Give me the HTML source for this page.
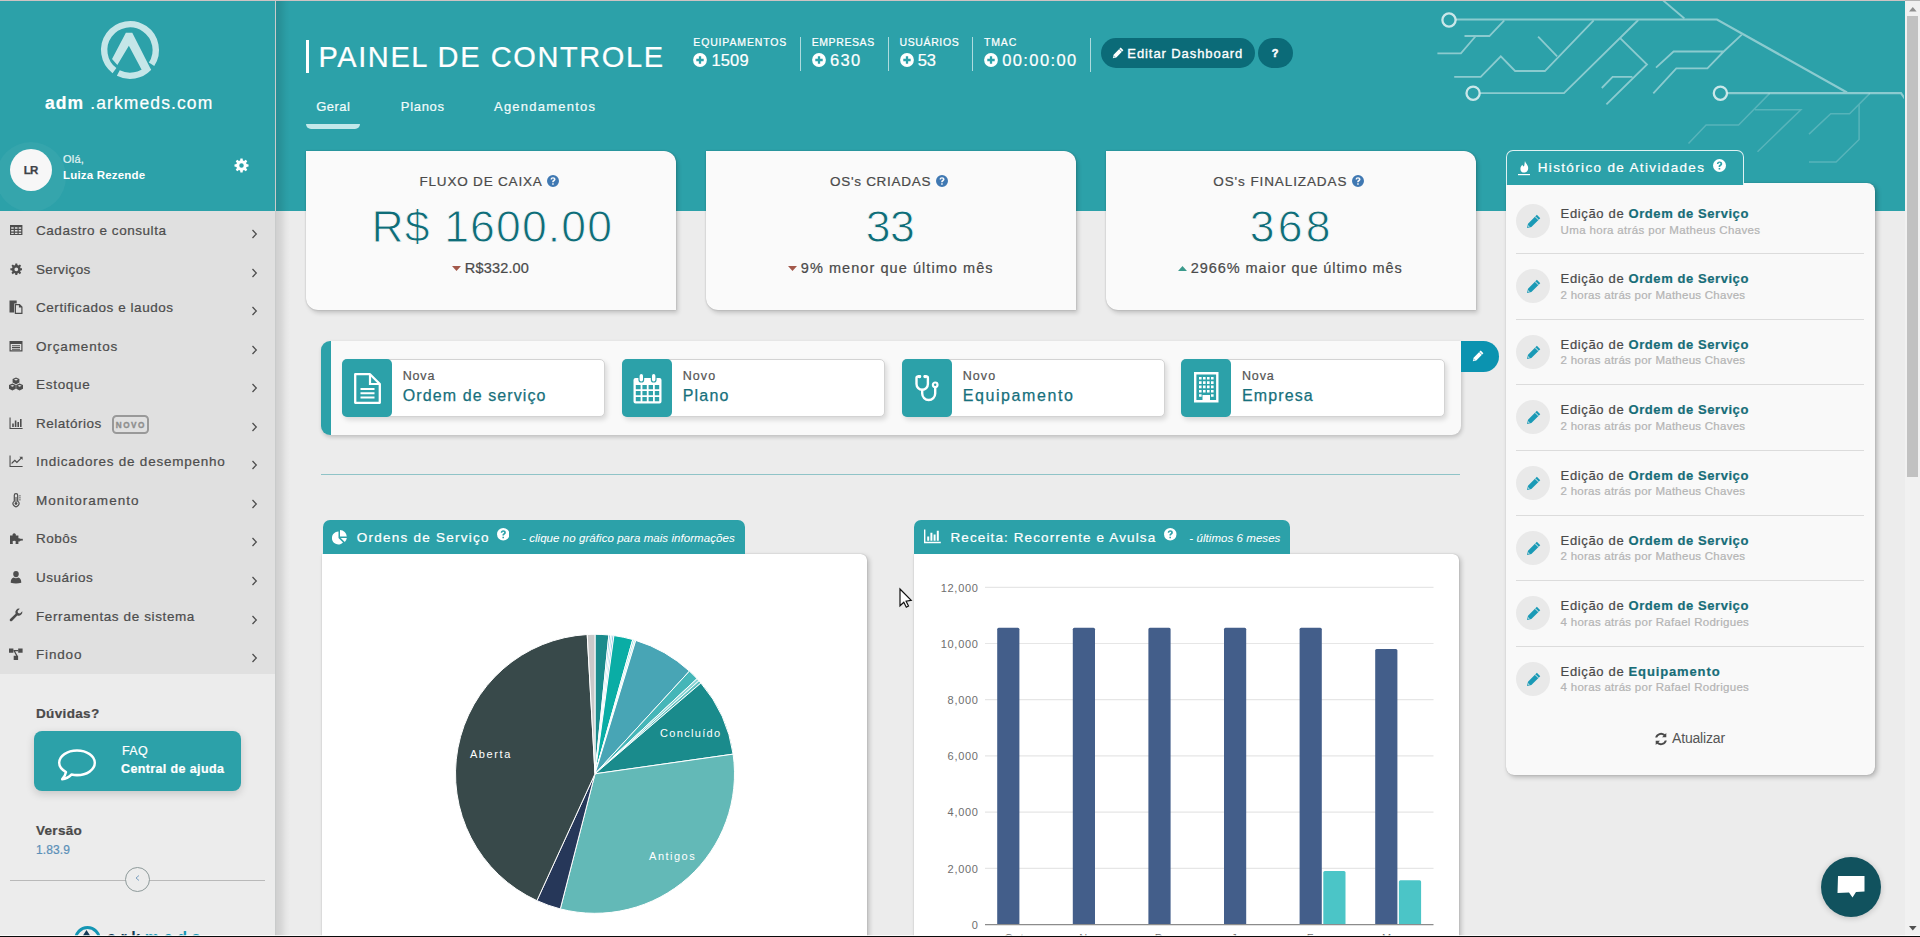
<!DOCTYPE html>
<html lang="pt-br">
<head>
<meta charset="utf-8">
<title>Painel de Controle</title>
<style>
*{box-sizing:border-box;margin:0;padding:0}
html,body{width:1920px;height:937px;overflow:hidden}
body{font-family:"Liberation Sans",sans-serif;background:#ececec;color:#4a4a4a;position:relative;-webkit-text-stroke-width:.22px}
.abs{position:absolute}
svg{display:block}
/* top + bottom window lines */
#topline{left:0;top:0;width:1905px;height:1px;background:#cfc3c3;z-index:50}
#botline{left:0;top:936px;width:1920px;height:1px;background:#0a0a0a;z-index:60}
#botline2{left:0;top:935px;width:1920px;height:1px;background:rgba(255,255,255,.75);z-index:60}
/* header */
#hdr{left:276px;top:0;width:1629px;height:211px;background:#2ca1a9}
/* sidebar */
#side{left:0;top:0;width:275px;height:937px;background:#ececec;z-index:20}
#sideborder{left:275px;top:0;width:1px;height:937px;background:#c9cbcb;z-index:21}
#sideshadow{left:276px;top:0;width:14px;height:937px;background:linear-gradient(to right,rgba(0,0,0,.12),rgba(0,0,0,.09) 35%,rgba(0,0,0,.03) 70%,rgba(0,0,0,0));z-index:19}
#sidetop{left:0;top:0;width:275px;height:211px;background:#2ca1a9}
#menu{left:0;top:211px;width:275px;height:463px;background:#e0e0e0}
/* scrollbar */
#sb{left:1905px;top:0;width:15px;height:937px;background:#f1f1f1;z-index:55}
#sbthumb{left:1907px;top:16px;width:11px;height:461px;background:#c1c1c1;z-index:56}

/* sidebar content */
.w{color:#fff}
#brand{left:45px;top:93px;width:200px;text-align:left;font-size:17.5px;color:#fff;letter-spacing:1.1px;line-height:20px;white-space:pre}
#brand b{font-weight:700}
#halo{left:-4px;top:141.500px;width:70px;height:70px;border-radius:50%;background:rgba(255,255,255,.045)}
#avatar{left:10px;top:149px;width:42px;height:42px;border-radius:50%;background:#f7f7f7;color:#3e4248;font-weight:700;font-size:11.5px;text-align:center;line-height:43px;letter-spacing:-.8px;text-indent:-.8px;-webkit-text-stroke-width:.25px}
#ola{left:63px;top:152px;font-size:11px;line-height:14px;color:#e2f3f4;letter-spacing:.2px}
#uname{left:63px;top:168px;font-size:11.5px;line-height:14px;color:#fff;font-weight:700;letter-spacing:0.18px;-webkit-text-stroke-width:0}
.mi{left:0;width:275px;height:38.55px;font-size:13.5px;color:#4d4d4d;letter-spacing:.5px}
.mi span.t{position:absolute;left:36px;top:1px;line-height:38.55px;white-space:nowrap}
.mi svg.ic{position:absolute;left:8px;top:11px;width:16px;height:16px;fill:#4d4d4d}
.mi svg.ch{position:absolute;left:251px;top:18px;width:7px;height:10px}
.novo{position:absolute;left:112px;top:11.200px;width:37px;height:19px;overflow:visible;border:2px solid #999;border-radius:4.500px;font-size:8.2px;font-weight:700;color:#8e8e8e;text-align:center;line-height:18.600px;letter-spacing:1.55px;text-indent:0.78px;-webkit-text-stroke-width:.35px}
#duv{left:36px;top:705px;font-size:13.5px;font-weight:700;color:#4a4a4a;line-height:18px;letter-spacing:.35px}
#faq{left:34px;top:731px;width:207px;height:60px;border-radius:8px;background:#2ca1a9;box-shadow:0 3px 8px rgba(0,0,0,.16)}
#faq .a{position:absolute;left:88px;top:12px;font-size:12.5px;line-height:16px;color:#fff;letter-spacing:.3px}
#faq .b{position:absolute;left:87px;top:30px;font-size:12.5px;line-height:16px;color:#fff;font-weight:700;letter-spacing:0.38px;white-space:nowrap}
#ver{left:36px;top:822px;font-size:13.5px;font-weight:700;color:#4a4a4a;line-height:18px;letter-spacing:.3px}
#vern{left:36px;top:842px;font-size:12px;color:#5b90b8;line-height:16px;letter-spacing:.1px}
#shr{left:10px;top:880px;width:255px;height:1px;background:#b9b9b9}
#scirc{left:125px;top:867px;width:25px;height:25px;border-radius:50%;border:1px solid #8e9a9a;background:#ececec}

/* header content */
#tbar{left:306px;top:40px;width:3px;height:32.5px;background:#fff}
#title{left:318.500px;top:40px;font-size:29px;line-height:34px;color:#fff;letter-spacing:1.59px;white-space:nowrap}
.st{color:#fff;white-space:nowrap}
.st .l{position:absolute;left:0;top:0;font-size:10.5px;line-height:12px}
.st .n{position:absolute;left:18.200px;top:14.800px;font-size:16.5px;line-height:18px}
.st svg{position:absolute;left:0;top:17px}
.dv{width:1px;height:34px;top:37px;background:rgba(255,255,255,.62)}
#bedit{left:1101px;top:38px;width:153.500px;height:30px;border-radius:15px;background:#0b6b78}
#bedit span{position:absolute;left:26.300px;top:7.600px;-webkit-text-stroke-width:.35px;font-size:13px;line-height:16px;color:#fff;letter-spacing:.92px;white-space:nowrap}
#bq{left:1258.400px;top:38px;width:34.300px;height:30px;border-radius:15px;background:#0b6b78;color:#fff;font-weight:700;font-size:11px;text-align:center;line-height:31px;-webkit-text-stroke-width:.5px;text-indent:-1px}
.tab{top:98.500px;font-size:13px;line-height:16px;color:#f2fbfb;white-space:nowrap}
#tabu{left:306px;top:124px;width:54px;height:5px;background:#c3e8ea;border-radius:0 0 5px 5px}

/* cards */
.card{top:151px;width:369.500px;height:159px;background:#fafafa;border-radius:0 12px 0 12px;box-shadow:2px 3px 4px rgba(0,0,0,.17),0 0 1.500px rgba(0,0,0,.3)}
.card .ct{position:absolute;top:23.300px;font-size:13.5px;line-height:16px;color:#4a4a4a;white-space:nowrap}
.card .cv{position:absolute;top:51px;font-size:44.5px;line-height:50px;color:#0f6d78;-webkit-text-stroke:.9px #fafafa;white-space:nowrap}
.card .cs{position:absolute;top:108px;font-size:14.5px;line-height:18px;color:#4a4a4a;white-space:nowrap}
.card svg{position:absolute}
/* quick actions */
#qa{left:321px;top:341px;width:1139.500px;height:94px;background:#f9f9f9;border-left:10px solid #2ca1a9;border-radius:9px 0 9px 9px;box-shadow:1px 2px 4px rgba(0,0,0,.2)}
.qb{top:358.500px;width:263.500px;height:58.800px;background:#fff;border:1px solid #d3d3d3;border-radius:5px;box-shadow:2px 3px 5px rgba(0,0,0,.13)}
.qb .sq{position:absolute;left:-1px;top:-1px;width:50.300px;height:58.800px;background:#2ca1a9;border-radius:5px}
.qb .a{position:absolute;left:60px;top:9.500px;font-size:12.5px;line-height:15px;color:#555;white-space:nowrap}
.qb .b{position:absolute;left:60px;top:26.800px;font-size:16px;line-height:19px;color:#17707c;white-space:nowrap;-webkit-text-stroke:.25px #17707c}
#qedit{left:1460.500px;top:341px;width:38.200px;height:31px;background:#0b93b0;border-radius:0 15.500px 15.500px 0}
#hr1{left:321px;top:474px;width:1139px;height:1px;background:#8fc3c7}
/* history */
#htab{left:1506px;top:150px;width:238px;height:35px;background:#2ca1a9;border:1px solid rgba(255,255,255,.85);border-bottom:none;border-radius:7px 7px 0 0}
#htab span{position:absolute;left:30.700px;top:9px;font-size:13.5px;line-height:16px;color:#fff;white-space:nowrap}
#hpan{left:1505.500px;top:183px;width:369px;height:591.800px;background:#f9f9f9;border-radius:0 8px 8px 8px;box-shadow:2px 2px 5px rgba(0,0,0,.25),0 0 1px rgba(0,0,0,.3)}
.hi{left:1516px;width:348px;height:65.400px}
.hi .c{position:absolute;left:0;top:0;width:34px;height:34px;border-radius:50%;background:#e9e9e9}
.hi .t{position:absolute;left:44.600px;top:2px;font-size:13px;line-height:16px;color:#4a4a4a;white-space:nowrap}
.hi .t b{color:#176d78;font-weight:700}
.hi .s{position:absolute;left:44.600px;top:19px;font-size:11.5px;line-height:14px;color:#b4b4b4;white-space:nowrap}
.hsep{left:1516px;width:348px;height:1px;background:#dcdcdc}
#hupd{left:1672px;top:729.500px;font-size:14px;line-height:17px;color:#555;white-space:nowrap;-webkit-text-stroke-width:0}
#chat{left:1821px;top:857px;width:60px;height:60px;border-radius:50%;background:#11525e;box-shadow:0 1px 6px rgba(0,0,0,.2)}

/* charts */
.chd{top:520px;height:34px;background:#2ca1a9;border-radius:7px 7px 0 0;color:#fff}
.chd .t{position:absolute;top:9.600px;font-size:13.5px;line-height:16px;white-space:nowrap}
.chd .i{position:absolute;top:10.800px;font-size:11.5px;line-height:14px;font-style:italic;white-space:nowrap;-webkit-text-stroke-width:.05px}
.cpan{top:553.500px;height:400px;background:#fff;border-radius:0 6px 0 0;box-shadow:2px 2px 5px rgba(0,0,0,.22),0 0 1px rgba(0,0,0,.35)}
</style>
</head>
<body>
<svg width="0" height="0" style="position:absolute"><defs>
<g id="logo" fill="none" stroke="#c5e6e8" stroke-width="6.4">
  <path d="M24.47 60.6 A25.8 25.8 0 1 1 61.56 54.16" />
  <path d="M58.9 57.6 A25.8 25.8 0 0 1 28.3 63" />
  <path d="M35.87 22.63 L42.27 22.63 L61.06 59.78 L55 63 L51.24 58.92 L38.86 35.87 L27.33 55.08 L22.03 49.1 Z" fill="#c5e6e8" stroke="none"/>
</g>
<path id="i-cog" fill-rule="evenodd" d="M13.40 6.52 L15.51 6.82 L15.51 9.18 L13.40 9.48 L12.86 10.77 L14.15 12.47 L12.47 14.15 L10.77 12.86 L9.48 13.40 L9.18 15.51 L6.82 15.51 L6.52 13.40 L5.23 12.86 L3.53 14.15 L1.85 12.47 L3.14 10.77 L2.60 9.48 L0.49 9.18 L0.49 6.82 L2.60 6.52 L3.14 5.23 L1.85 3.53 L3.53 1.85 L5.23 3.14 L6.52 2.60 L6.82 0.49 L9.18 0.49 L9.48 2.60 L10.77 3.14 L12.47 1.85 L14.15 3.53 L12.86 5.23Z M10.40 8.00 A2.4 2.4 0 1 0 5.60 8.00 A2.4 2.4 0 1 0 10.40 8.00Z"/>
<g id="i-th"><path fill-rule="evenodd" d="M2 3h12.4v10H2z M3.2 5.2v1.6h2.5V5.2z M6.9 5.2v1.6h2.6V5.2z M10.7 5.2v1.6h2.5V5.2z M3.2 8v1.6h2.5V8z M6.9 8v1.6h2.6V8z M10.7 8v1.6h2.5V8z M3.2 10.8v1.2h2.5v-1.2z M6.9 10.8v1.2h2.6v-1.2z M10.7 10.8v1.2h2.5v-1.2z"/></g>
<g id="i-copy"><path d="M1.5 1.5h7.2v3H6.2v9H1.5z"/><path fill-rule="evenodd" d="M6.8 5h5l2.7 2.7V15H6.8z M8 6.2v7.6h5.3V8.6h-2.4V6.2z"/></g>
<g id="i-list"><path fill-rule="evenodd" d="M1.5 3h13v10.5h-13z M2.7 6v6.3h10.6V6z"/><path d="M4 7.2h8v1H4z M4 9h8v1H4z M4 10.8h8v1H4z"/></g>
<g id="i-cubes"><path fill-rule="evenodd" d="M8 1.5 L11.4 3 V6.6 L8 8.2 L4.6 6.6 V3z M8 2.8 L6 3.7 L8 4.6 L10 3.7z"/><path fill-rule="evenodd" d="M4.4 7.6 L7.8 9.1 V12.8 L4.4 14.4 L1 12.8 V9.1z M4.4 8.9 L2.4 9.8 L4.4 10.7 L6.4 9.8z"/><path fill-rule="evenodd" d="M11.6 7.6 L15 9.1 V12.8 L11.6 14.4 L8.2 12.8 V9.1z M11.6 8.9 L9.6 9.8 L11.6 10.7 L13.6 9.8z"/></g>
<g id="i-bar"><path d="M1.5 2.5h1.1v10.4h12v1.1H1.5z M4.2 8.5h1.6v3.6H4.2z M6.8 5.5h1.6v6.6H6.8z M9.4 7h1.6v5.1H9.4z M12 4h1.6v8.100H12z"/></g>
<g id="i-line"><path d="M1.5 2.5h1.1v10.4h12v1.1H1.5z"/><path d="M3.6 11.200 L3.6 9.6 L6.800 6.400 L8.900 8.500 L12.5 4.900 L11.300 3.700 L14.600 3.700 L14.600 7 L13.4 5.800 L8.900 10.300 L6.800 8.200z"/></g>
<g id="i-therm"><path fill-rule="evenodd" d="M8 1 a2.300 2.300 0 0 1 2.300 2.300 V9 a3.500 3.500 0 1 1 -4.600 0 V3.300 A2.300 2.300 0 0 1 8 1z M8 2.200 a1.100 1.100 0 0 0 -1.100 1.100 V9.600 a2.300 2.300 0 1 0 2.200 0 V3.300 A1.100 1.100 0 0 0 8 2.200z"/><path d="M7.500 5h1v5.200a1.400 1.400 0 1 1 -1 0z M11 3.500h1.800v.8H11z M11 5.500h1.800v.8H11z M11 7.500h1.800v.8H11z"/></g>
<g id="i-puzzle"><path d="M2 5.500h2.600 a1.700 1.700 0 1 1 3.200 0 H10.400 V8.300 a1.700 1.700 0 1 1 0 3.200 V14 H7.600 V12.800 a1.500 1.500 0 1 0 -2.800 0 V14 H2z"/><path d="M12 8.800h2.800v1.800H12z"/></g>
<g id="i-user"><path d="M8 2 a2.800 3.100 0 1 1 0 6.200 a2.800 3.100 0 1 1 0 -6.200z M2.700 13.800 c0 -3.400 1.300 -5 3.100 -5.300 c1.300 .9 3.100 .9 4.400 0 c1.800 .3 3.100 1.900 3.100 5.300 q-5.300 1.400 -10.600 0z"/></g>
<g id="i-wrench"><path d="M14.300 3.200 a3.700 3.700 0 0 1 -5 4.200 L4 12.900 a1.300 1.300 0 0 1 -1.900 -1.900 L7.600 5.700 a3.700 3.700 0 0 1 4.200 -5 L9.600 3 L10 5 L12 5.400z"/></g>
<g id="i-proj"><path d="M1 2.500h4.400v4.200H1z M10.200 2.500h4.400v4.200h-4.400z M5.700 9.800h4.400v4.200H5.700z"/><path d="M5.400 4h4.800v1.300H5.400z M5.600 5 l1.100 -.6 l2.900 5.400 l-1.100 .6z"/></g>
<g id="i-comment" fill="none" stroke="#fff" stroke-width="2.300"><path d="M21 4 c9.500 0 17 4.800 17 10.800 s-7.500 10.800 -17 10.800 c-1.800 0 -3.600 -.2 -5.200 -.5 c-2.400 2.200 -5.600 3.700 -9 4 c2 -1.800 3.300 -3.800 3.700 -6.200 C6.500 20.900 4 18 4 14.800 C4 8.800 11.500 4 21 4z" stroke-linejoin="round"/></g>
<g id="botlogo"><circle cx="87.500" cy="939.600" r="12" fill="none" stroke="#1496b4" stroke-width="3"/><path d="M80.500 942 L86.500 932.800 L92.500 942" fill="none" stroke="#153a56" stroke-width="3"/><text x="107" y="943" font-family="Liberation Sans, sans-serif" font-size="16" font-weight="700" fill="#153a56" letter-spacing="4.61">ark<tspan fill="#1496b4">meds</tspan></text></g>
<g id="i-plus"><circle cx="7" cy="7" r="6.900" fill="#fff"/><path d="M3.300 7 H10.700 M7 3.300 V10.700" stroke="#2ca1a9" stroke-width="2.300" fill="none"/></g>
<path id="i-pencil" fill-rule="evenodd" d="M8.700 .6 L11.400 3.300 L4.300 10.400 L.8 11.200 L1.600 7.700 Z M7.600 1.900 L7.200 2.300 L9.700 4.800 L10.100 4.400 Z M2 8.700 L1.700 10.300 L3.300 10 L3.050 9.750 L2.500 9.900 L2.200 9.500 L2.300 9 Z"/>
<g id="i-q"><path fill-rule="evenodd" d="M6 0 a6 6 0 1 1 0 12 a6 6 0 1 1 0 -12z M5.200 8.300 v1.500 h1.500 v-1.500z M3.600 4.500 h1.500 c0 -.7 .4 -1 .9 -1 s.9 .3 .9 .8 c0 .4 -.3 .7 -.8 1 c-.7 .5 -.9 .9 -.9 1.700 v.300 h1.500 v-.200 c0 -.4 .200 -.6 .7 -.9 c.7 -.5 1.100 -1 1.100 -1.900 c0 -1.300 -1 -2.100 -2.500 -2.100 s-2.400 .9 -2.400 2.300z"/></g>
<g id="i-doc" fill="none" stroke="#fff"><path d="M1.200 1.200 H16 L25.800 11 V29.800 H1.200z" stroke-width="2.300" stroke-linejoin="round"/><path d="M16 1.300 V11 H25.700" stroke-width="2.200"/><path d="M6.500 16 H20.500 M6.500 20.300 H20.500 M6.500 24.600 H20.500" stroke-width="2"/></g>
<g id="i-cal"><path fill="#fff" fill-rule="evenodd" d="M2.500 5 H26.500 a2 2 0 0 1 2 2 V28.500 a2 2 0 0 1 -2 2 H2.500 a2 2 0 0 1 -2 -2 V7 a2 2 0 0 1 2 -2z M2.800 12 v4.200 h4.800 V12z M9.400 12 v4.200 h4.400 V12z M15.600 12 v4.200 h4.400 V12z M21.800 12 v4.200 h4.400 V12z M2.800 18 v4.200 h4.800 V18z M9.400 18 v4.200 h4.400 V18z M15.600 18 v4.200 h4.400 V18z M21.800 18 v4.200 h4.400 V18z M2.800 24 v4.200 h4.800 V24z M9.400 24 v4.200 h4.400 V24z M15.600 24 v4.200 h4.400 V24z M21.800 24 v4.200 h4.400 V24z"/><rect x="6" y=".5" width="4.600" height="8.500" rx="2.300" fill="#fff" stroke="#2ca1a9" stroke-width="1.200"/><rect x="18.400" y=".5" width="4.600" height="8.500" rx="2.300" fill="#fff" stroke="#2ca1a9" stroke-width="1.200"/></g>
<g id="i-ste" fill="none" stroke="#fff" stroke-width="2.400" stroke-linecap="round"><path d="M4.500 1.500 H2.800 a1.300 1.300 0 0 0 -1.300 1.300 V9 a5.700 5.700 0 0 0 11.400 0 V2.800 a1.300 1.300 0 0 0 -1.300 -1.300 H10"/><path d="M4.300 1.600 h.3 M10 1.600 h.3" stroke-width="3.400"/><path d="M7.200 15 v3.500 a6.500 6.500 0 0 0 13 0 V12.500"/><circle cx="20.200" cy="9.800" r="2.300" stroke-width="2.200"/></g>
<g id="i-bld"><path fill="#fff" fill-rule="evenodd" d="M0 0 H24.500 V30.500 H0z M2.400 2.400 V28.100 H8.500 V23 H16 V28.100 H22.100 V2.400z"/><path fill="#fff" d="M5 5h2.600v2.600H5z M9 5h2.600v2.600H9z M13 5h2.600v2.600H13z M17 5h2.600v2.600H17z M5 9.300h2.600v2.600H5z M9 9.300h2.600v2.600H9z M13 9.300h2.600v2.600H13z M17 9.300h2.600v2.600H17z M5 13.600h2.600v2.600H5z M9 13.600h2.600v2.600H9z M13 13.600h2.600v2.600H13z M17 13.600h2.600v2.600H17z M5 17.900h2.600v2.600H5z M9 17.900h2.600v2.600H9z M13 17.900h2.600v2.600H13z M17 17.900h2.600v2.600H17z M5 22.200h2.600v2.600H5z M17 22.200h2.600v2.600H17z"/></g>
<g id="i-fire" fill="#fff"><path d="M7 0 C7.600 2.600 10.200 4 10.200 7.200 C10.200 9.900 8.300 11.600 6.200 11.600 C4 11.600 2.400 10 2.400 7.900 C2.400 6 3.500 4.900 4.400 3.800 C4.700 4.800 5.300 5.400 5.900 5.500 C6.700 3.800 6.500 1.700 7 0z"/><rect x="0" y="13" width="12" height="1.200"/></g>
<g id="i-refresh" fill="#4a4a4a"><path d="M12.300 1 V5.300 H8 L9.600 3.700 A4 4 0 0 0 3.200 5.600 H1.200 A6 6 0 0 1 11 2.300z M1.700 13 V8.700 H6 L4.400 10.300 A4 4 0 0 0 10.800 8.400 H12.800 A6 6 0 0 1 3 11.700z"/></g>
<g id="i-pie" fill="#fff"><path d="M6.500 1.500 V8 L11 12.600 A6.500 6.500 0 1 1 6.500 1.500z"/><path d="M8 0 A6.800 6.800 0 0 1 14.800 6.500 H8z"/><path d="M8.700 8 H14.800 A6.800 6.800 0 0 1 12.800 12z"/></g>
<g id="i-barw" fill="#fff"><path d="M0 .5h1.400v12.300h15.400v1.400H0z M3.200 7.500h2v4.300h-2z M6.400 3.800h2v8h-2z M9.600 5.600h2v6.200h-2z M12.800 1.800h2v10h-2z"/></g>
</defs></svg>
<div id="hdr" class="abs"></div>

<svg class="abs" style="left:1400px;top:0" width="504" height="210" viewBox="1400 0 504 210" fill="none" stroke="#fff" stroke-width="1.500">
 <g opacity=".75"><circle cx="1449" cy="20" r="6.600" stroke-width="2.300"/><circle cx="1473.100" cy="93.200" r="6.600" stroke-width="2.300"/><circle cx="1720.400" cy="93.200" r="6.600" stroke-width="2.300"/></g>
 <g opacity=".45" stroke-width="1.800">
  <path d="M1456 19.500 H1717 L1847 92.500 M1727.500 93.200 H1901 L1906 100" stroke-width="2.200"/>
  <path d="M1662.700 0 L1684.400 18.500"/>
  <path d="M1480.500 93.200 H1564 L1638.300 20"/>
  <path d="M1593.700 20.300 L1544.900 71 H1515.100 L1500.800 56.300 L1480.700 76.900 H1454.200"/>
  <path d="M1538.100 36.600 L1557.100 56.300"/>
  <path d="M1504.300 20.300 L1489.400 36 H1464.500 M1475.800 36 L1460.900 53.400 H1437.400"/>
  <path d="M1619.900 37.900 L1647 64.500 L1606.400 104.300 M1632.400 76.900 H1612.600 L1601.800 88"/>
  <path d="M1741.800 34.700 L1723.700 51.500 H1673.600 L1656 67.700 M1723.700 51.500 L1707.400 68.300 H1676.300 L1653.300 93.400"/>
 </g>
 <g opacity=".2">
  <path d="M1769.700 93.400 L1738.600 125.100 H1706.100 L1688.500 143.600"/>
  <path d="M1754.800 109.700 H1800.900 L1757.500 151.700"/>
  <path d="M1869.900 93.400 L1849.600 113.800 H1830.700 L1809 134.100"/>
  <path d="M1859.100 104.300 V139.500 L1836.100 162 H1809"/>
 </g>
</svg>
<div id="tbar" class="abs"></div>
<div id="title" class="abs">PAINEL DE CONTROLE</div>
<div class="st abs" style="left:693.3px;top:36px"><span class="l" style="letter-spacing:0.85px">EQUIPAMENTOS</span><svg width="14" height="14" viewBox="0 0 14 14"><use href="#i-plus"/></svg><span class="n" style="letter-spacing:0.13px">1509</span></div>
<div class="dv abs" style="left:800px"></div>
<div class="st abs" style="left:811.7px;top:36px"><span class="l" style="letter-spacing:0.59px">EMPRESAS</span><svg width="14" height="14" viewBox="0 0 14 14"><use href="#i-plus"/></svg><span class="n" style="letter-spacing:1.38px">630</span></div>
<div class="dv abs" style="left:888px"></div>
<div class="st abs" style="left:899.5px;top:36px"><span class="l" style="letter-spacing:0.62px">USUÁRIOS</span><svg width="14" height="14" viewBox="0 0 14 14"><use href="#i-plus"/></svg><span class="n" style="letter-spacing:-0.06px">53</span></div>
<div class="dv abs" style="left:972px"></div>
<div class="st abs" style="left:984px;top:36px"><span class="l" style="letter-spacing:0.85px">TMAC</span><svg width="14" height="14" viewBox="0 0 14 14"><use href="#i-plus"/></svg><span class="n" style="letter-spacing:1.4px">00:00:00</span></div>
<div class="dv abs" style="left:1090px;top:38px"></div>
<div id="bedit" class="abs"><svg class="abs" style="left:11px;top:9px" width="12" height="12" viewBox="0 0 12 12"><use href="#i-pencil" fill="#fff"/></svg><span>Editar Dashboard</span></div>
<div id="bq" class="abs">?</div>
<div class="tab abs" style="left:316.200px;letter-spacing:.5px">Geral</div>
<div class="tab abs" style="left:400.800px;letter-spacing:.69px">Planos</div>
<div class="tab abs" style="left:494px;letter-spacing:1.230px">Agendamentos</div>
<div id="tabu" class="abs"></div>
<div class="card abs" style="left:306px">
 <span class="ct" style="left:113.5px;letter-spacing:0.81px">FLUXO DE CAIXA</span>
 <svg style="left:241.0px;top:24.200px" width="12" height="12" viewBox="0 0 12 12"><use href="#i-q" fill="#3f78b2"/></svg>
 <span class="cv" style="left:65.4px;letter-spacing:1.17px">R$ 1600.00</span>
 <svg style="left:145.8px;top:115px" width="9" height="5" viewBox="0 0 8.600 4.800"><path d="M0 0H8.600L4.300 4.800z" fill="#a3584a"/></svg>
 <span class="cs" style="left:158.8px;letter-spacing:0.17px">R$332.00</span>
</div>
<div class="card abs" style="left:706px">
 <span class="ct" style="left:124.0px;letter-spacing:0.71px">OS's CRIADAS</span>
 <svg style="left:229.6px;top:24.200px" width="12" height="12" viewBox="0 0 12 12"><use href="#i-q" fill="#3f78b2"/></svg>
 <span class="cv" style="left:159.8px;letter-spacing:-0.5px">33</span>
 <svg style="left:82.3px;top:115px" width="9" height="5" viewBox="0 0 8.600 4.800"><path d="M0 0H8.600L4.300 4.800z" fill="#a3584a"/></svg>
 <span class="cs" style="left:94.8px;letter-spacing:1.06px">9% menor que último mês</span>
</div>
<div class="card abs" style="left:1106px">
 <span class="ct" style="left:107.3px;letter-spacing:0.9px">OS's FINALIZADAS</span>
 <svg style="left:245.8px;top:24.200px" width="12" height="12" viewBox="0 0 12 12"><use href="#i-q" fill="#3f78b2"/></svg>
 <span class="cv" style="left:143.8px;letter-spacing:3.17px">368</span>
 <svg style="left:72.3px;top:115px" width="9" height="5" viewBox="0 0 8.600 4.800"><path d="M0 4.800H8.600L4.300 0z" fill="#3a9a8c"/></svg>
 <span class="cs" style="left:84.8px;letter-spacing:0.93px">2966% maior que último mês</span>
</div>
<div id="qa" class="abs"></div>
<div class="qb abs" style="left:341.7px"><div class="sq"></div><svg class="abs" style="left:11.500px;top:13.300px" width="27" height="31" viewBox="0 0 27 31"><use href="#i-doc"/></svg><span class="a" style="letter-spacing:0.84px">Nova</span><span class="b" style="letter-spacing:1.1px">Ordem de serviço</span></div>
<div class="qb abs" style="left:621.7px"><div class="sq"></div><svg class="abs" style="left:10px;top:13px" width="29" height="31" viewBox="0 0 29 31"><use href="#i-cal"/></svg><span class="a" style="letter-spacing:1.1px">Novo</span><span class="b" style="letter-spacing:1.22px">Plano</span></div>
<div class="qb abs" style="left:901.7px"><div class="sq"></div><svg class="abs" style="left:12.400px;top:15.800px" width="25" height="27" viewBox="0 0 25 27"><use href="#i-ste"/></svg><span class="a" style="letter-spacing:1.1px">Novo</span><span class="b" style="letter-spacing:1.6px">Equipamento</span></div>
<div class="qb abs" style="left:1181px"><div class="sq"></div><svg class="abs" style="left:12.400px;top:12.700px" width="25" height="31" viewBox="0 0 25 31"><use href="#i-bld"/></svg><span class="a" style="letter-spacing:0.84px">Nova</span><span class="b" style="letter-spacing:1.11px">Empresa</span></div>
<div id="qedit" class="abs"><svg class="abs" style="left:11.500px;top:9px" width="12" height="12" viewBox="0 0 12 12"><use href="#i-pencil" fill="#fff"/></svg></div>
<div id="hr1" class="abs"></div>
<div id="hpan" class="abs"></div>
<div id="htab" class="abs"><svg class="abs" style="left:10.500px;top:10px" width="13" height="15" viewBox="0 0 13 15"><use href="#i-fire"/></svg><span style="letter-spacing:1.35px">Histórico de Atividades</span><svg class="abs" style="left:206.300px;top:8px" width="13" height="13" viewBox="0 0 12 12"><use href="#i-q" fill="#fff"/></svg></div>
<div class="hi abs" style="top:204px"><div class="c"><svg class="abs" style="left:9.500px;top:9.500px" width="15" height="15" viewBox="0 0 12 12"><use href="#i-pencil" fill="#1a9ab6"/></svg></div><span class="t"><span style="letter-spacing:0.65px">Edição de </span><b style="letter-spacing:0.57px">Ordem de Serviço</b></span><span class="s" style="letter-spacing:0.34px">Uma hora atrás por Matheus Chaves</span></div>
<div class="hsep abs" style="top:253px"></div>
<div class="hi abs" style="top:269px"><div class="c"><svg class="abs" style="left:9.500px;top:9.500px" width="15" height="15" viewBox="0 0 12 12"><use href="#i-pencil" fill="#1a9ab6"/></svg></div><span class="t"><span style="letter-spacing:0.65px">Edição de </span><b style="letter-spacing:0.57px">Ordem de Serviço</b></span><span class="s" style="letter-spacing:0.26px">2 horas atrás por Matheus Chaves</span></div>
<div class="hsep abs" style="top:319px"></div>
<div class="hi abs" style="top:335px"><div class="c"><svg class="abs" style="left:9.500px;top:9.500px" width="15" height="15" viewBox="0 0 12 12"><use href="#i-pencil" fill="#1a9ab6"/></svg></div><span class="t"><span style="letter-spacing:0.65px">Edição de </span><b style="letter-spacing:0.57px">Ordem de Serviço</b></span><span class="s" style="top:18px;letter-spacing:0.26px">2 horas atrás por Matheus Chaves</span></div>
<div class="hsep abs" style="top:384px"></div>
<div class="hi abs" style="top:400px"><div class="c"><svg class="abs" style="left:9.500px;top:9.500px" width="15" height="15" viewBox="0 0 12 12"><use href="#i-pencil" fill="#1a9ab6"/></svg></div><span class="t"><span style="letter-spacing:0.65px">Edição de </span><b style="letter-spacing:0.57px">Ordem de Serviço</b></span><span class="s" style="letter-spacing:0.26px">2 horas atrás por Matheus Chaves</span></div>
<div class="hsep abs" style="top:450px"></div>
<div class="hi abs" style="top:466px"><div class="c"><svg class="abs" style="left:9.500px;top:9.500px" width="15" height="15" viewBox="0 0 12 12"><use href="#i-pencil" fill="#1a9ab6"/></svg></div><span class="t"><span style="letter-spacing:0.65px">Edição de </span><b style="letter-spacing:0.57px">Ordem de Serviço</b></span><span class="s" style="top:18px;letter-spacing:0.26px">2 horas atrás por Matheus Chaves</span></div>
<div class="hsep abs" style="top:515px"></div>
<div class="hi abs" style="top:531px"><div class="c"><svg class="abs" style="left:9.500px;top:9.500px" width="15" height="15" viewBox="0 0 12 12"><use href="#i-pencil" fill="#1a9ab6"/></svg></div><span class="t"><span style="letter-spacing:0.65px">Edição de </span><b style="letter-spacing:0.57px">Ordem de Serviço</b></span><span class="s" style="top:18px;letter-spacing:0.26px">2 horas atrás por Matheus Chaves</span></div>
<div class="hsep abs" style="top:580px"></div>
<div class="hi abs" style="top:596px"><div class="c"><svg class="abs" style="left:9.500px;top:9.500px" width="15" height="15" viewBox="0 0 12 12"><use href="#i-pencil" fill="#1a9ab6"/></svg></div><span class="t"><span style="letter-spacing:0.65px">Edição de </span><b style="letter-spacing:0.57px">Ordem de Serviço</b></span><span class="s" style="letter-spacing:0.28px">4 horas atrás por Rafael Rodrigues</span></div>
<div class="hsep abs" style="top:646px"></div>
<div class="hi abs" style="top:662px"><div class="c"><svg class="abs" style="left:9.500px;top:9.500px" width="15" height="15" viewBox="0 0 12 12"><use href="#i-pencil" fill="#1a9ab6"/></svg></div><span class="t"><span style="letter-spacing:0.65px">Edição de </span><b style="letter-spacing:0.87px">Equipamento</b></span><span class="s" style="top:18px;letter-spacing:0.28px">4 horas atrás por Rafael Rodrigues</span></div>
<svg class="abs" style="left:1654px;top:731.500px" width="14" height="14" viewBox="0 0 14 14"><use href="#i-refresh"/></svg>
<div id="hupd" class="abs" style="letter-spacing:-0.17px">Atualizar</div>
<div id="chat" class="abs"><svg class="abs" style="left:15px;top:17px" width="30" height="27" viewBox="0 0 30 27"><path d="M2 2 H28.500 V17.500 L20 18 L16.500 23.500 L13 18.500 L1.500 19z" fill="#fff"/></svg></div>
<div class="cpan abs" style="left:322px;width:544.600px"></div>
<div class="cpan abs" style="left:914px;width:544.800px"></div>
<div class="chd abs" style="left:322.700px;width:422.300px"><svg class="abs" style="left:9.600px;top:9.800px" width="15" height="15" viewBox="0 0 15 15"><use href="#i-pie"/></svg><span class="t" style="left:34px;letter-spacing:1.25px">Ordens de Serviço</span><svg class="abs" style="left:174.300px;top:8.200px" width="12.500" height="12.500" viewBox="0 0 12 12"><use href="#i-q" fill="#fff"/></svg><span class="i" style="left:199.300px;letter-spacing:0.06px">- clique no gráfico para mais informações</span></div>
<div class="chd abs" style="left:914px;width:376.200px"><svg class="abs" style="left:9.800px;top:9.300px" width="17" height="15" viewBox="0 0 17 15"><use href="#i-barw"/></svg><span class="t" style="left:36.400px;letter-spacing:1.12px">Receita: Recorrente e Avulsa</span><svg class="abs" style="left:250.300px;top:8.200px" width="12.500" height="12.500" viewBox="0 0 12 12"><use href="#i-q" fill="#fff"/></svg><span class="i" style="left:275.300px;letter-spacing:0.06px">- últimos 6 meses</span></div>
<svg class="abs" style="left:322px;top:553px" width="1140" height="384" viewBox="322 553 1140 384"><g stroke="#fff" stroke-width="1" stroke-linejoin="round"><path d="M595.0 773.8 L595.00 634.30 A139.5 139.5 0 0 1 608.86 634.99Z" fill="#1a8b8c"/><path d="M595.0 773.8 L608.86 634.99 A139.5 139.5 0 0 1 610.55 635.17Z" fill="#6fb4dc"/><path d="M595.0 773.8 L610.55 635.17 A139.5 139.5 0 0 1 612.24 635.37Z" fill="#8fdada"/><path d="M595.0 773.8 L612.24 635.37 A139.5 139.5 0 0 1 613.93 635.59Z" fill="#5aa9e0"/><path d="M595.0 773.8 L613.93 635.59 A139.5 139.5 0 0 1 632.75 639.50Z" fill="#0aada5"/><path d="M595.0 773.8 L632.75 639.50 A139.5 139.5 0 0 1 634.39 639.98Z" fill="#7ad3d3"/><path d="M595.0 773.8 L634.39 639.98 A139.5 139.5 0 0 1 635.79 640.40Z" fill="#9adfe0"/><path d="M595.0 773.8 L635.79 640.40 A139.5 139.5 0 0 1 689.42 671.11Z" fill="#48a5b5"/><path d="M595.0 773.8 L689.42 671.11 A139.5 139.5 0 0 1 697.02 678.66Z" fill="#45b6b8"/><path d="M595.0 773.8 L697.02 678.66 A139.5 139.5 0 0 1 698.99 680.82Z" fill="#8ad4d4"/><path d="M595.0 773.8 L698.99 680.82 A139.5 139.5 0 0 1 700.92 683.02Z" fill="#5fc0c0"/><path d="M595.0 773.8 L700.92 683.02 A139.5 139.5 0 0 1 733.11 754.14Z" fill="#1a8b8c"/><path d="M595.0 773.8 L733.11 754.14 A139.5 139.5 0 0 1 560.31 908.92Z" fill="#63b9b7"/><path d="M595.0 773.8 L560.31 908.92 A139.5 139.5 0 0 1 536.93 900.64Z" fill="#263759"/><path d="M595.0 773.8 L536.93 900.64 A139.5 139.5 0 0 1 587.21 634.52Z" fill="#38494a"/><path d="M595.0 773.8 L587.21 634.52 A139.5 139.5 0 0 1 595.00 634.30Z" fill="#c9c9c9"/></g><g font-family="Liberation Sans, sans-serif" font-size="11" fill="#fff" style="-webkit-text-stroke-width:0">
<text x="469.900" y="757.600" letter-spacing="1.62">Aberta</text>
<text x="660" y="736.500" letter-spacing="1.33">Concluído</text>
<text x="649.100" y="859.900" letter-spacing="1.48">Antigos</text></g><path d="M985 868.4H1433.500" stroke="#e6e6e6" stroke-width="1.200"/><path d="M985 812.2H1433.500" stroke="#e6e6e6" stroke-width="1.200"/><path d="M985 755.9H1433.500" stroke="#e6e6e6" stroke-width="1.200"/><path d="M985 699.7H1433.500" stroke="#e6e6e6" stroke-width="1.200"/><path d="M985 643.5H1433.500" stroke="#e6e6e6" stroke-width="1.200"/><path d="M985 587.3H1433.500" stroke="#e6e6e6" stroke-width="1.200"/><path d="M997.2 924.6 V629.2 a1.500 1.500 0 0 1 1.500 -1.500 H1017.9 a1.500 1.500 0 0 1 1.500 1.500 V924.6z" fill="#435e8a"/><path d="M1072.8 924.6 V629.2 a1.500 1.500 0 0 1 1.500 -1.500 H1093.5 a1.500 1.500 0 0 1 1.500 1.500 V924.6z" fill="#435e8a"/><path d="M1148.4 924.6 V629.2 a1.500 1.500 0 0 1 1.500 -1.500 H1169.1 a1.500 1.500 0 0 1 1.500 1.500 V924.6z" fill="#435e8a"/><path d="M1224.0 924.6 V629.2 a1.500 1.500 0 0 1 1.500 -1.500 H1244.7 a1.500 1.500 0 0 1 1.500 1.500 V924.6z" fill="#435e8a"/><path d="M1299.6 924.6 V629.2 a1.500 1.500 0 0 1 1.500 -1.500 H1320.3 a1.500 1.500 0 0 1 1.500 1.500 V924.6z" fill="#435e8a"/><path d="M1375.2 924.6 V650.4 a1.500 1.500 0 0 1 1.500 -1.500 H1395.9 a1.500 1.500 0 0 1 1.500 1.500 V924.6z" fill="#435e8a"/><path d="M1323.3 924.6 V872.5 a1.500 1.500 0 0 1 1.500 -1.500 H1344.0 a1.500 1.500 0 0 1 1.500 1.500 V924.6z" fill="#4bc5c7"/><path d="M1398.9 924.6 V881.8 a1.500 1.500 0 0 1 1.500 -1.500 H1419.6 a1.500 1.500 0 0 1 1.500 1.500 V924.6z" fill="#4bc5c7"/><path d="M985 924.6H1433.500" stroke="#8c8c8c" stroke-width="1.200"/>
<g font-family="Liberation Sans, sans-serif" font-size="11" fill="#6e6e6e"><text x="978.600" y="928.8" text-anchor="end" letter-spacing=".7">0</text><text x="978.600" y="872.6" text-anchor="end" letter-spacing=".7">2,000</text><text x="978.600" y="816.4" text-anchor="end" letter-spacing=".7">4,000</text><text x="978.600" y="760.1" text-anchor="end" letter-spacing=".7">6,000</text><text x="978.600" y="703.9" text-anchor="end" letter-spacing=".7">8,000</text><text x="978.600" y="647.7" text-anchor="end" letter-spacing=".7">10,000</text><text x="978.600" y="591.5" text-anchor="end" letter-spacing=".7">12,000</text><text x="1014.3" y="942.300" text-anchor="middle" letter-spacing=".6">Out</text><text x="1089.9" y="942.300" text-anchor="middle" letter-spacing=".6">Nov</text><text x="1165.5" y="942.300" text-anchor="middle" letter-spacing=".6">Dez</text><text x="1241.1" y="942.300" text-anchor="middle" letter-spacing=".6">Jan</text><text x="1316.7" y="942.300" text-anchor="middle" letter-spacing=".6">Fev</text><text x="1392.3" y="942.300" text-anchor="middle" letter-spacing=".6">Mar</text></g></svg>
<svg class="abs" style="left:897.800px;top:586.800px;z-index:70" width="16" height="24" viewBox="-2 -2 16 24"><path d="M0 0 L0 16.800 L3.800 13.300 L6.300 18.200 L8.500 17 L6.100 12.200 L11.200 11.400 Z" fill="#fff" stroke="#111" stroke-width="1.200" stroke-linejoin="miter"/></svg>
<div id="side" class="abs">
  <div id="sidetop" class="abs"></div>
  <div id="halo" class="abs"></div>
  <svg class="abs" style="left:90px;top:10px" width="80" height="80" viewBox="0 0 80 80"><use href="#logo" /></svg>
  <div id="brand" class="abs"><b>adm</b> .arkmeds.com</div>
  <div id="avatar" class="abs">LR</div>
  <div id="ola" class="abs">Olá,</div>
  <div id="uname" class="abs">Luiza Rezende</div>
  <svg class="abs" style="left:234.3px;top:157.6px" width="15" height="15" viewBox="0 0 16 16"><use href="#i-cog" fill="#fff"/></svg>
  <div id="menu" class="abs"></div>
<div class="mi abs" style="top:211.00px"><svg class="ic" viewBox="0 0 16 16"><use href="#i-th"/></svg><span class="t" style="letter-spacing:0.55px">Cadastro e consulta</span><svg class="ch" viewBox="0 0 7 10"><path d="M1.5 1 L5.3 5 L1.5 9" fill="none" stroke="#4d4d4d" stroke-width="1.3"/></svg></div>
<div class="mi abs" style="top:249.55px"><svg class="ic" style="left:9.700px;top:13px;width:12.600px;height:12.600px" viewBox="0 0 16 16"><use href="#i-cog"/></svg><span class="t" style="letter-spacing:0.36px">Serviços</span><svg class="ch" viewBox="0 0 7 10"><path d="M1.5 1 L5.3 5 L1.5 9" fill="none" stroke="#4d4d4d" stroke-width="1.3"/></svg></div>
<div class="mi abs" style="top:288.10px"><svg class="ic" viewBox="0 0 16 16"><use href="#i-copy"/></svg><span class="t" style="letter-spacing:0.55px">Certificados e laudos</span><svg class="ch" viewBox="0 0 7 10"><path d="M1.5 1 L5.3 5 L1.5 9" fill="none" stroke="#4d4d4d" stroke-width="1.3"/></svg></div>
<div class="mi abs" style="top:326.65px"><svg class="ic" viewBox="0 0 16 16"><use href="#i-list"/></svg><span class="t" style="letter-spacing:0.86px">Orçamentos</span><svg class="ch" viewBox="0 0 7 10"><path d="M1.5 1 L5.3 5 L1.5 9" fill="none" stroke="#4d4d4d" stroke-width="1.3"/></svg></div>
<div class="mi abs" style="top:365.20px"><svg class="ic" viewBox="0 0 16 16"><use href="#i-cubes"/></svg><span class="t" style="letter-spacing:0.71px">Estoque</span><svg class="ch" viewBox="0 0 7 10"><path d="M1.5 1 L5.3 5 L1.5 9" fill="none" stroke="#4d4d4d" stroke-width="1.3"/></svg></div>
<div class="mi abs" style="top:403.75px"><svg class="ic" viewBox="0 0 16 16"><use href="#i-bar"/></svg><span class="t" style="letter-spacing:0.5px">Relatórios</span><span class="novo">NOVO</span><svg class="ch" viewBox="0 0 7 10"><path d="M1.5 1 L5.3 5 L1.5 9" fill="none" stroke="#4d4d4d" stroke-width="1.3"/></svg></div>
<div class="mi abs" style="top:442.30px"><svg class="ic" viewBox="0 0 16 16"><use href="#i-line"/></svg><span class="t" style="letter-spacing:0.77px">Indicadores de desempenho</span><svg class="ch" viewBox="0 0 7 10"><path d="M1.5 1 L5.3 5 L1.5 9" fill="none" stroke="#4d4d4d" stroke-width="1.3"/></svg></div>
<div class="mi abs" style="top:480.85px"><svg class="ic" viewBox="0 0 16 16"><use href="#i-therm"/></svg><span class="t" style="letter-spacing:1.04px">Monitoramento</span><svg class="ch" viewBox="0 0 7 10"><path d="M1.5 1 L5.3 5 L1.5 9" fill="none" stroke="#4d4d4d" stroke-width="1.3"/></svg></div>
<div class="mi abs" style="top:519.40px"><svg class="ic" viewBox="0 0 16 16"><use href="#i-puzzle"/></svg><span class="t" style="letter-spacing:0.49px">Robôs</span><svg class="ch" viewBox="0 0 7 10"><path d="M1.5 1 L5.3 5 L1.5 9" fill="none" stroke="#4d4d4d" stroke-width="1.3"/></svg></div>
<div class="mi abs" style="top:557.95px"><svg class="ic" viewBox="0 0 16 16"><use href="#i-user"/></svg><span class="t" style="letter-spacing:0.5px">Usuários</span><svg class="ch" viewBox="0 0 7 10"><path d="M1.5 1 L5.3 5 L1.5 9" fill="none" stroke="#4d4d4d" stroke-width="1.3"/></svg></div>
<div class="mi abs" style="top:596.50px"><svg class="ic" viewBox="0 0 16 16"><use href="#i-wrench"/></svg><span class="t" style="letter-spacing:0.61px">Ferramentas de sistema</span><svg class="ch" viewBox="0 0 7 10"><path d="M1.5 1 L5.3 5 L1.5 9" fill="none" stroke="#4d4d4d" stroke-width="1.3"/></svg></div>
<div class="mi abs" style="top:635.05px"><svg class="ic" viewBox="0 0 16 16"><use href="#i-proj"/></svg><span class="t" style="letter-spacing:0.84px">Findoo</span><svg class="ch" viewBox="0 0 7 10"><path d="M1.5 1 L5.3 5 L1.5 9" fill="none" stroke="#4d4d4d" stroke-width="1.3"/></svg></div>

  <div id="duv" class="abs">Dúvidas?</div>
  <div id="faq" class="abs">
    <svg class="abs" style="left:21px;top:14.500px" width="44" height="41" viewBox="0 0 42 36" preserveAspectRatio="none"><use href="#i-comment"/></svg>
    <span class="a">FAQ</span><span class="b">Central de ajuda</span>
  </div>
  <div id="ver" class="abs">Versão</div>
  <div id="vern" class="abs">1.83.9</div>
  <div id="shr" class="abs"></div>
  <div id="scirc" class="abs"><svg width="23" height="23" viewBox="0 0 23 23"><path d="M13 7.5 L10 10 L13 12.5" fill="none" stroke="#7da0c0" stroke-width="1"/></svg></div>
  <svg class="abs" style="left:70px;top:922px" width="150" height="15" viewBox="70 922 150 15"><use href="#botlogo"/></svg>
</div>
<div id="sideborder" class="abs"></div>
<div id="sideshadow" class="abs"></div>
<div id="sb" class="abs"></div>
<div id="sbthumb" class="abs"></div>
<div class="abs" style="left:1905px;top:0;width:15px;height:1px;background:#b4b4b4;z-index:57"></div>
<svg class="abs" style="left:1909px;top:6.500px;z-index:57" width="8" height="5" viewBox="0 0 8 5"><path d="M0 4.500L3.800 0L7.600 4.500z" fill="#8f8f8f"/></svg>
<svg class="abs" style="left:1909px;top:925.800px;z-index:57" width="8" height="5" viewBox="0 0 8 5"><path d="M0 0L3.800 4.500L7.600 0z" fill="#505050"/></svg>
<div id="topline" class="abs"></div>
<div id="botline" class="abs"></div>
<div id="botline2" class="abs"></div>
</body>
</html>
